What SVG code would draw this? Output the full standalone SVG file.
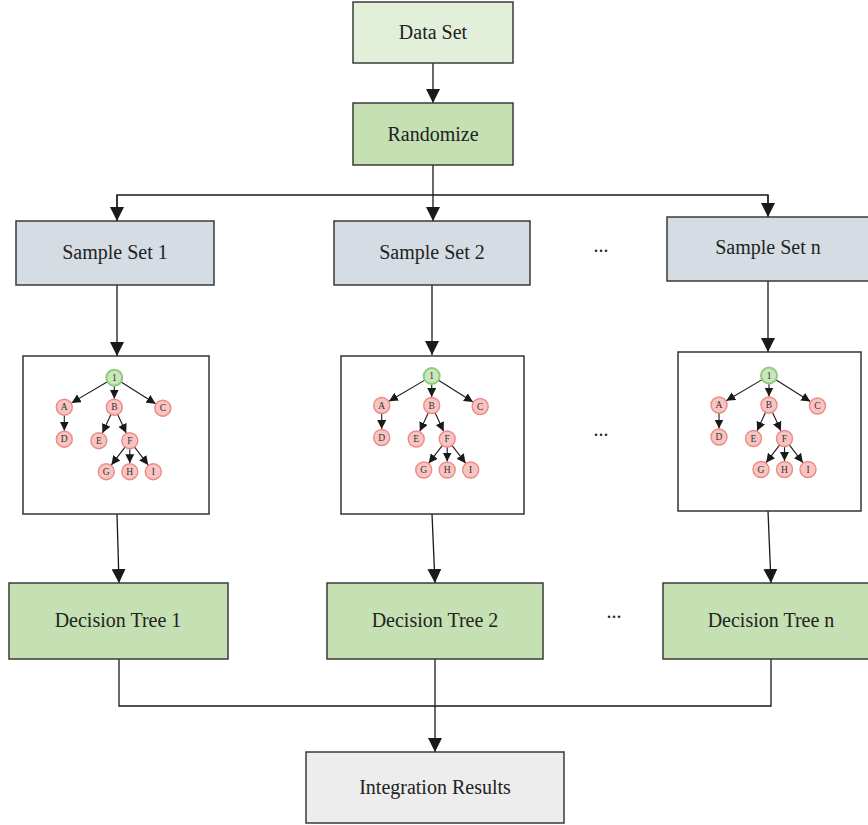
<svg xmlns="http://www.w3.org/2000/svg" width="868" height="825" viewBox="0 0 868 825">
<style>
.box{stroke:#3a3a3a;stroke-width:1.5}
.lbl{font-family:"Liberation Serif","Times New Roman",serif;font-size:20px;fill:#222;text-anchor:middle;dominant-baseline:central}
.conn{stroke:#1a1a1a;stroke-width:1.3;fill:none}
.tb{fill:#fff;stroke:#333;stroke-width:1.5}
.nd{fill:#f8c4c2;stroke:#ec8a86;stroke-width:1.4}
.rt{fill:#c9e6bd;stroke:#8fcb7c;stroke-width:2}
.nl{font-family:"Liberation Serif","Times New Roman",serif;font-size:9.5px;fill:#333;text-anchor:middle;dominant-baseline:central}
.te{stroke:#1a1a1a;stroke-width:1.1;fill:none;marker-end:url(#ts)}
.dots{font-family:"Liberation Serif","Times New Roman",serif;font-size:20px;fill:#222;text-anchor:middle}
</style>
<defs>
<marker id="ah" markerUnits="userSpaceOnUse" markerWidth="14" markerHeight="14" refX="14" refY="7" orient="auto">
<path d="M0,0 L14,7 L0,14 z" fill="#1a1a1a"/>
</marker>
<marker id="ts" markerUnits="userSpaceOnUse" markerWidth="9" markerHeight="9" refX="9" refY="4.5" orient="auto">
<path d="M0,0 L9,4.5 L0,9 z" fill="#1a1a1a"/>
</marker>
</defs>
<rect width="868" height="825" fill="#fff"/>

<g id="connectors">
<line class="conn" x1="433" y1="63" x2="433" y2="103" marker-end="url(#ah)"/>
<line class="conn" x1="433" y1="165" x2="433" y2="221" marker-end="url(#ah)"/>
<polyline class="conn" points="117,221 117,195 768,195 768,217"/>
<line class="conn" x1="117" y1="195" x2="117" y2="221" marker-end="url(#ah)"/>
<line class="conn" x1="768" y1="195" x2="768" y2="217" marker-end="url(#ah)"/>
<line class="conn" x1="117" y1="285" x2="117" y2="356" marker-end="url(#ah)"/>
<line class="conn" x1="432" y1="285" x2="432" y2="355" marker-end="url(#ah)"/>
<line class="conn" x1="768" y1="281" x2="768" y2="352" marker-end="url(#ah)"/>
<line class="conn" x1="117" y1="514" x2="119" y2="583" marker-end="url(#ah)"/>
<line class="conn" x1="432" y1="514" x2="435" y2="583" marker-end="url(#ah)"/>
<line class="conn" x1="768" y1="511" x2="771" y2="583" marker-end="url(#ah)"/>
<polyline class="conn" points="119,659 119,706 771,706 771,659"/>
<line class="conn" x1="435" y1="659" x2="435" y2="752" marker-end="url(#ah)"/>
</g>

<g id="data-set">
<rect class="box" x="353" y="2" width="160" height="61" fill="#e2efd9"/>
<text class="lbl" x="433" y="32">Data Set</text>
</g>
<g id="randomize">
<rect class="box" x="353" y="103" width="160" height="62" fill="#c5e0b3"/>
<text class="lbl" x="433" y="134">Randomize</text>
</g>

<g id="sample-set-1">
<rect class="box" x="16" y="221" width="198" height="64" fill="#d6dce4"/>
<text class="lbl" x="115" y="252">Sample Set 1</text>
</g>
<g id="sample-set-2">
<rect class="box" x="334" y="221" width="196" height="64" fill="#d6dce4"/>
<text class="lbl" x="432" y="252">Sample Set 2</text>
</g>
<g id="sample-set-n">
<rect class="box" x="667" y="217" width="203" height="64" fill="#d6dce4"/>
<text class="lbl" x="768" y="247">Sample Set n</text>
</g>
<text class="dots" x="601" y="252">...</text>

<g id="tree-1">
<rect class="tb" x="23" y="356" width="186" height="158"/>
<g transform="translate(114.3,377.7)">
<line class="te" x1="-6.9" y1="4.1" x2="-42.7" y2="25.2"/>
<line class="te" x1="0" y1="8" x2="0" y2="21"/>
<line class="te" x1="6.8" y1="4.3" x2="41.3" y2="26"/>
<line class="te" x1="-50" y1="37.5" x2="-50" y2="53"/>
<line class="te" x1="-3.4" y1="36.8" x2="-11.9" y2="55.3"/>
<line class="te" x1="3.4" y1="36.8" x2="11.9" y2="55.3"/>
<line class="te" x1="10.7" y1="69.4" x2="-2.9" y2="87.2"/>
<line class="te" x1="15.5" y1="71" x2="15.5" y2="85.5"/>
<line class="te" x1="20.3" y1="69.4" x2="33.9" y2="87.2"/>
<circle class="rt" cx="0" cy="0" r="8"/><text class="nl" x="0" y="0">1</text>
<circle class="nd" cx="-50" cy="29.5" r="8"/><text class="nl" x="-50" y="29.5">A</text>
<circle class="nd" cx="0" cy="29.5" r="8"/><text class="nl" x="0" y="29.5">B</text>
<circle class="nd" cx="48.5" cy="30.5" r="8"/><text class="nl" x="48.5" y="30.5">C</text>
<circle class="nd" cx="-50" cy="61.5" r="8"/><text class="nl" x="-50" y="61.5">D</text>
<circle class="nd" cx="-15.5" cy="63" r="8"/><text class="nl" x="-15.5" y="63">E</text>
<circle class="nd" cx="15.5" cy="63" r="8"/><text class="nl" x="15.5" y="63">F</text>
<circle class="nd" cx="-8" cy="94" r="8"/><text class="nl" x="-8" y="94">G</text>
<circle class="nd" cx="15.5" cy="94" r="8"/><text class="nl" x="15.5" y="94">H</text>
<circle class="nd" cx="39" cy="94" r="8"/><text class="nl" x="39" y="94">I</text>
</g>
</g>

<g id="tree-2">
<rect class="tb" x="341" y="356" width="183" height="158"/>
<g transform="translate(431.7,376)">
<line class="te" x1="-6.9" y1="4.1" x2="-42.7" y2="25.2"/>
<line class="te" x1="0" y1="8" x2="0" y2="21"/>
<line class="te" x1="6.8" y1="4.3" x2="41.3" y2="26"/>
<line class="te" x1="-50" y1="37.5" x2="-50" y2="53"/>
<line class="te" x1="-3.4" y1="36.8" x2="-11.9" y2="55.3"/>
<line class="te" x1="3.4" y1="36.8" x2="11.9" y2="55.3"/>
<line class="te" x1="10.7" y1="69.4" x2="-2.9" y2="87.2"/>
<line class="te" x1="15.5" y1="71" x2="15.5" y2="85.5"/>
<line class="te" x1="20.3" y1="69.4" x2="33.9" y2="87.2"/>
<circle class="rt" cx="0" cy="0" r="8"/><text class="nl" x="0" y="0">1</text>
<circle class="nd" cx="-50" cy="29.5" r="8"/><text class="nl" x="-50" y="29.5">A</text>
<circle class="nd" cx="0" cy="29.5" r="8"/><text class="nl" x="0" y="29.5">B</text>
<circle class="nd" cx="48.5" cy="30.5" r="8"/><text class="nl" x="48.5" y="30.5">C</text>
<circle class="nd" cx="-50" cy="61.5" r="8"/><text class="nl" x="-50" y="61.5">D</text>
<circle class="nd" cx="-15.5" cy="63" r="8"/><text class="nl" x="-15.5" y="63">E</text>
<circle class="nd" cx="15.5" cy="63" r="8"/><text class="nl" x="15.5" y="63">F</text>
<circle class="nd" cx="-8" cy="94" r="8"/><text class="nl" x="-8" y="94">G</text>
<circle class="nd" cx="15.5" cy="94" r="8"/><text class="nl" x="15.5" y="94">H</text>
<circle class="nd" cx="39" cy="94" r="8"/><text class="nl" x="39" y="94">I</text>
</g>
</g>

<g id="tree-n">
<rect class="tb" x="678" y="352" width="183" height="159"/>
<g transform="translate(769,375.5)">
<line class="te" x1="-6.9" y1="4.1" x2="-42.7" y2="25.2"/>
<line class="te" x1="0" y1="8" x2="0" y2="21"/>
<line class="te" x1="6.8" y1="4.3" x2="41.3" y2="26"/>
<line class="te" x1="-50" y1="37.5" x2="-50" y2="53"/>
<line class="te" x1="-3.4" y1="36.8" x2="-11.9" y2="55.3"/>
<line class="te" x1="3.4" y1="36.8" x2="11.9" y2="55.3"/>
<line class="te" x1="10.7" y1="69.4" x2="-2.9" y2="87.2"/>
<line class="te" x1="15.5" y1="71" x2="15.5" y2="85.5"/>
<line class="te" x1="20.3" y1="69.4" x2="33.9" y2="87.2"/>
<circle class="rt" cx="0" cy="0" r="8"/><text class="nl" x="0" y="0">1</text>
<circle class="nd" cx="-50" cy="29.5" r="8"/><text class="nl" x="-50" y="29.5">A</text>
<circle class="nd" cx="0" cy="29.5" r="8"/><text class="nl" x="0" y="29.5">B</text>
<circle class="nd" cx="48.5" cy="30.5" r="8"/><text class="nl" x="48.5" y="30.5">C</text>
<circle class="nd" cx="-50" cy="61.5" r="8"/><text class="nl" x="-50" y="61.5">D</text>
<circle class="nd" cx="-15.5" cy="63" r="8"/><text class="nl" x="-15.5" y="63">E</text>
<circle class="nd" cx="15.5" cy="63" r="8"/><text class="nl" x="15.5" y="63">F</text>
<circle class="nd" cx="-8" cy="94" r="8"/><text class="nl" x="-8" y="94">G</text>
<circle class="nd" cx="15.5" cy="94" r="8"/><text class="nl" x="15.5" y="94">H</text>
<circle class="nd" cx="39" cy="94" r="8"/><text class="nl" x="39" y="94">I</text>
</g>
</g>
<text class="dots" x="601" y="436">...</text>

<g id="decision-tree-1">
<rect class="box" x="9" y="583" width="219" height="76" fill="#c5e0b3"/>
<text class="lbl" x="118" y="620">Decision Tree 1</text>
</g>
<g id="decision-tree-2">
<rect class="box" x="327" y="583" width="216" height="76" fill="#c5e0b3"/>
<text class="lbl" x="435" y="620">Decision Tree 2</text>
</g>
<g id="decision-tree-n">
<rect class="box" x="663" y="583" width="207" height="76" fill="#c5e0b3"/>
<text class="lbl" x="771" y="620">Decision Tree n</text>
</g>
<text class="dots" x="614" y="618">...</text>

<g id="integration-results">
<rect class="box" x="306" y="752" width="258" height="71" fill="#ededed"/>
<text class="lbl" x="435" y="787">Integration Results</text>
</g>
</svg>
